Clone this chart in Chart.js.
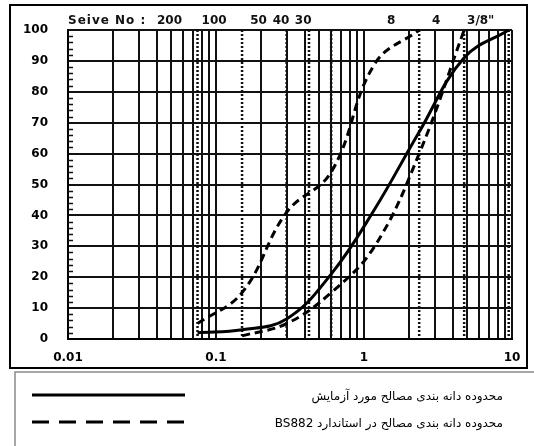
<!DOCTYPE html>
<html><head><meta charset="utf-8">
<script src="https://cdn.jsdelivr.net/npm/chart.js@4.4.1/dist/chart.umd.min.js"></script>
<style>html,body{margin:0;padding:0;background:#fff}canvas{display:block}</style>
</head><body>
<canvas id="c" width="534" height="446"></canvas>
<script>
// Sieve openings (mm) used for the grading test
const sieveSizes = [0.075, 0.15, 0.3, 0.6, 1.18, 2.36, 4.75, 9.5];
// Percent passing of the tested aggregate
const testPassing = [2, 3, 6.5, 21, 42, 67, 91, 100];
// BS882 grading envelope: upper and lower limits
const upperSizes = [0.075, 0.15, 0.3, 0.6, 1.18, 2.36];
const upperPassing = [5, 15, 41, 54, 89, 100];
const lowerSizes = [0.15, 0.3, 0.6, 1.18, 2.36, 4.75];
const lowerPassing = [1, 5, 15, 30, 60, 100];
// Sieve numbers printed along the top edge, with their openings (mm)
const sieveMarkSizes = [0.075, 0.15, 0.3, 0.425, 0.6, 2.36, 4.75, 9.5];
const sieveMarkLabels = ['200', '100', '50', '40', '30', '8', '4', '3/8"'];
const sieveTitle = 'Seive No :';
// Axis tick labels
const xTickValues = [0.01, 0.1, 1, 10];
const xTickLabels = ['0.01', '0.1', '1', '10'];
const yTickValues = [0, 10, 20, 30, 40, 50, 60, 70, 80, 90, 100];
// Legend entries
const legendLabels = [
  'محدوده دانه بندی مصالح مورد آزمایش',
  'محدوده دانه بندی مصالح در استاندارد BS882'
];

const FONT = "'DejaVu Sans', 'Liberation Sans', Arial, sans-serif";
const INK = '#111';

function pairs(xs, ys) { return xs.map((x, i) => ({ x: x, y: ys[i] })); }

// log grid: 1..9 in each decade
function logGrid(min, max) {
  const out = [];
  for (let d = min; d < max * 0.999; d *= 10) {
    for (let m = 1; m <= 9; m++) out.push(+(d * m).toPrecision(6));
  }
  out.push(max);
  return out;
}

const sieveOverlay = {
  id: 'sieveOverlay',
  beforeDraw(chart) {
    const c = chart.ctx;
    c.save();
    c.fillStyle = '#fff';
    c.fillRect(0, 0, chart.width, chart.height);
    c.restore();
  },
  beforeDatasetsDraw(chart) {
    const c = chart.ctx, xs = chart.scales.x, ys = chart.scales.y, a = chart.chartArea;
    c.save();
    // minor ticks on the left axis
    c.strokeStyle = INK; c.lineWidth = 1.5;
    for (let v = 0; v <= 100; v += 2) {
      if (v % 10 === 0) continue;
      const y = Math.round(ys.getPixelForValue(v)) + 0.5;
      c.beginPath(); c.moveTo(a.left, y); c.lineTo(a.left + 5, y); c.stroke();
    }
    // dotted lines at the standard sieve openings
    c.lineWidth = 2.5; c.setLineDash([2, 2]);
    sieveMarkSizes.forEach(s => {
      const x = xs.getPixelForValue(s);
      c.beginPath(); c.moveTo(x, a.top); c.lineTo(x, a.bottom); c.stroke();
    });
    c.setLineDash([]);
    // sieve numbers above the plot
    c.fillStyle = INK;
    c.font = 'bold 12px ' + FONT;
    c.textBaseline = 'middle';
    c.letterSpacing = '1px';
    c.textAlign = 'left';
    c.fillText(sieveTitle, a.left, 21);
    c.textAlign = 'center';
    c.letterSpacing = '0px';
    sieveMarkSizes.forEach((s, i) => {
      c.fillText(sieveMarkLabels[i], xs.getPixelForValue(s) - 28, 21);
    });
    c.restore();
  },
  afterDraw(chart) {
    const c = chart.ctx;
    c.save();
    // frame around the plot
    c.strokeStyle = '#000'; c.lineWidth = 2;
    c.strokeRect(10, 5, 517, 363);
    // legend box
    c.strokeStyle = '#8a8a8a'; c.lineWidth = 1.5;
    c.beginPath();
    c.moveTo(15, 460); c.lineTo(15, 372); c.lineTo(540, 372);
    c.stroke();
    const rows = [395, 422];
    const samples = [[], [17, 10]];
    samples.forEach((dash, i) => {
      c.strokeStyle = '#000';
      c.lineWidth = 3;
      c.setLineDash(dash);
      c.beginPath(); c.moveTo(32, rows[i]); c.lineTo(185, rows[i]); c.stroke();
    });
    c.setLineDash([]);
    c.fillStyle = '#000';
    c.font = '12px ' + FONT;
    c.direction = 'rtl';
    c.textAlign = 'right';
    c.textBaseline = 'middle';
    legendLabels.forEach((t, i) => c.fillText(t, 503, rows[i] + 2));
    c.restore();
  }
};

const curveStyle = {
  borderColor: '#000', borderWidth: 3, pointRadius: 0,
  tension: 0.4, fill: false, clip: 6
};

new Chart(document.getElementById('c'), {
  type: 'line',
  data: {
    datasets: [
      Object.assign({ label: legendLabels[0], data: pairs(sieveSizes, testPassing) }, curveStyle),
      Object.assign({ label: legendLabels[1], data: pairs(upperSizes, upperPassing), borderDash: [8, 5] }, curveStyle),
      Object.assign({ label: legendLabels[1], data: pairs(lowerSizes, lowerPassing), borderDash: [8, 5] }, curveStyle)
    ]
  },
  options: {
    responsive: false,
    animation: false,
    events: [],
    layout: { padding: { top: 30, right: 22, left: 0, bottom: 0 } },
    plugins: { legend: { display: false }, tooltip: { enabled: false } },
    scales: {
      x: {
        type: 'logarithmic', min: 0.01, max: 10,
        afterBuildTicks: s => { s.ticks = logGrid(0.01, 10).map(v => ({ value: v })); },
        afterFit: s => { s.height = 107; },
        grid: { color: INK, lineWidth: 2, drawTicks: false },
        border: { color: '#000', width: 2 },
        ticks: {
          autoSkip: false, maxRotation: 0, padding: 12, color: '#000',
          font: { family: FONT, weight: 'bold', size: 12 },
          callback: v => {
            const i = xTickValues.findIndex(t => Math.abs(t - v) / t < 1e-6);
            return i >= 0 ? xTickLabels[i] : '';
          }
        }
      },
      y: {
        min: 0, max: 100,
        afterBuildTicks: s => { s.ticks = yTickValues.map(v => ({ value: v })); },
        afterFit: s => { s.width = 68; },
        grid: { color: INK, lineWidth: 2, drawTicks: false },
        border: { color: '#000', width: 2 },
        ticks: {
          padding: 20, color: '#000',
          font: { family: FONT, weight: 'bold', size: 12 },
          callback: v => String(v)
        }
      }
    }
  },
  plugins: [sieveOverlay]
});
</script>
</body></html>
